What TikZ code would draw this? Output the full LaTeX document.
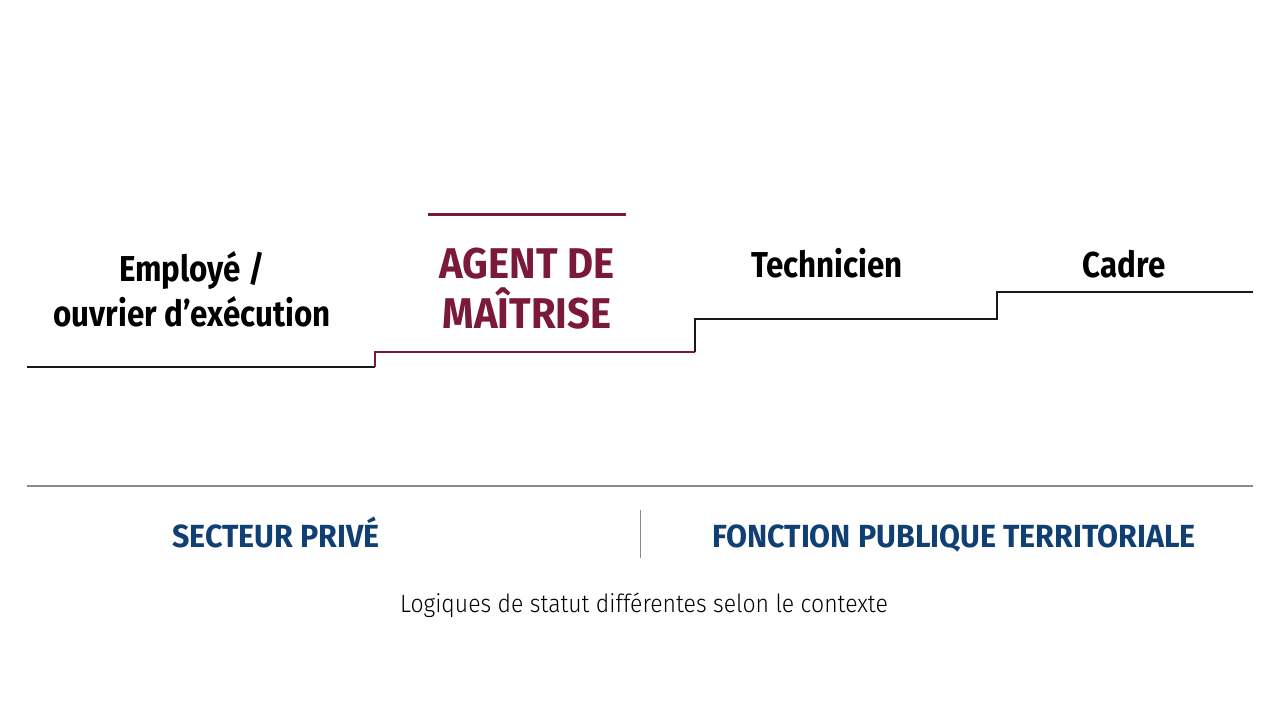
\documentclass[tikz,border=0pt]{standalone}
\usepackage{fontspec}
\newfontfamily\condstep[FakeStretch=0.87]{Fira Sans}
\newfontfamily\condmain[FakeStretch=0.93]{Fira Sans}
\newfontfamily\condsector[FakeStretch=0.95]{Fira Sans}
\newfontfamily\condlight[FakeStretch=0.92]{Fira Sans Light}
\definecolor{maroon}{HTML}{7A1A38}
\definecolor{navy}{HTML}{0F3F73}
\definecolor{divgray}{HTML}{8A8A8A}
\begin{document}
\begin{tikzpicture}[x=1pt,y=-1pt,
  steplabel/.style={align=center,inner sep=0pt,font=\condstep\bfseries\fontsize{36}{45}\selectfont},
  mainlabel/.style={align=center,inner sep=0pt,text=maroon,font=\condmain\bfseries\fontsize{43}{50}\selectfont},
  sectorlabel/.style={inner sep=0pt,anchor=base,text=navy,font=\condsector\bfseries\fontsize{32}{38}\selectfont},
  notelabel/.style={inner sep=0pt,anchor=base,font=\condlight\fontsize{25}{30}\selectfont},
  stairline/.style={line width=2.4pt,line cap=butt,line join=miter},
]
\useasboundingbox[fill=white] (0,0) rectangle (1280,720);
% stairs
\coordinate (s0) at (27,367);
\coordinate (s1) at (375,367);
\coordinate (s2) at (375,352);
\coordinate (s3) at (695,352);
\coordinate (s4) at (695,319);
\coordinate (s5) at (997,319);
\coordinate (s6) at (997,292);
\coordinate (s7) at (1253,292);
\draw[stairline,black!90] (s0) -- (s1);
\draw[stairline,maroon] (s1) -- (s2) -- (s3);
\draw[stairline,black!90] (s3) -- (s4) -- (s5) -- (s6) -- (s7);
\coordinate (r0) at (428,214);
\coordinate (r1) at (626,214);
\draw[line width=3pt,maroon] (r0) -- (r1);
% labels
\node[steplabel] (emp) at (192,289) {Employé /\\ouvrier d’exécution};
\node[mainlabel] (agent) at (527,289) {AGENT DE\\MAÎTRISE};
\node[steplabel,anchor=base] (tech) at (827,277) {Technicien};
\node[steplabel,anchor=base] (cadre) at (1124,277) {Cadre};
% bottom
\coordinate (g0) at (27,486);
\coordinate (g1) at (1253,486);
\draw[line width=1.3pt,divgray] (g0) -- (g1);
\coordinate (d0) at (640,510);
\coordinate (d1) at (640,558);
\draw[line width=1pt,divgray] (d0) -- (d1);
\node[sectorlabel] (prive) at (276,547) {SECTEUR PRIVÉ};
\node[sectorlabel] (fpt) at (954,547) {FONCTION PUBLIQUE TERRITORIALE};
\node[notelabel] (note) at (644,612) {Logiques de statut différentes selon le contexte};
\end{tikzpicture}
\end{document}
